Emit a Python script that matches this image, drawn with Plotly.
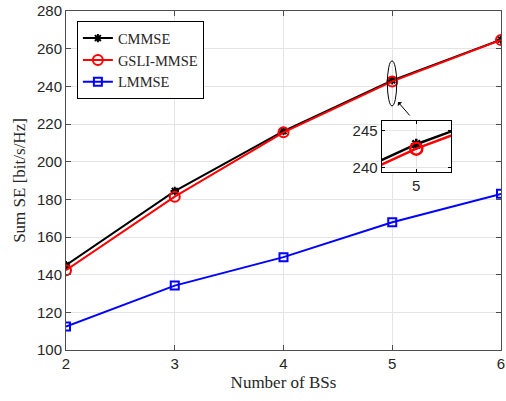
import plotly.graph_objects as go

# Number of base stations
bs_count = [2, 3, 4, 5, 6]

# Sum spectral efficiency [bit/s/Hz] per estimator
se_cmmse = [145.0, 184.4, 216.2, 243.2, 264.8]
se_gsli_mmse = [142.4, 181.4, 215.6, 242.6, 264.6]
se_lmmse = [112.5, 134.2, 149.3, 167.8, 182.9]

y_ticks = [100, 120, 140, 160, 180, 200, 220, 240, 260, 280]
x_ticks = [2, 3, 4, 5, 6]
inset_y_ticks = [240, 245]
inset_x_ticks = [5]

series = [
    ("CMMSE", se_cmmse, "black", "asterisk-open", 7),
    ("GSLI-MMSE", se_gsli_mmse, "#ff0000", "circle-open", 10),
    ("LMMSE", se_lmmse, "#0000ff", "square-open", 8),
]

serif = "Liberation Serif"
sans = "Liberation Sans"
axis_col = "#4d4d4d"
grid_col = "#e4e4e4"

fig = go.Figure()

for name, vals, col, sym, ms in series:
    fig.add_trace(go.Scatter(
        x=bs_count, y=vals, name=name, mode="lines+markers",
        line=dict(color=col, width=2),
        marker=dict(symbol=sym, size=ms, color=col, line=dict(color=col, width=2)),
        xaxis="x", yaxis="y",
    ))

# zoomed view around 5 BSs
for name, vals, col, sym, ms in series:
    fig.add_trace(go.Scatter(
        x=bs_count, y=vals, name=name, mode="lines+markers", showlegend=False,
        line=dict(color=col, width=2.5),
        marker=dict(symbol=sym, size=ms + 2, color=col, line=dict(color=col, width=2.5)),
        xaxis="x2", yaxis="y2", cliponaxis=True,
    ))

axis_common = dict(
    showline=True, linecolor=axis_col, linewidth=1, mirror="allticks",
    ticks="inside", ticklen=5, tickcolor=axis_col,
    showgrid=True, gridcolor=grid_col, gridwidth=1, zeroline=False,
    tickfont=dict(family=sans, size=15, color="#262626"),
)

fig.update_layout(
    width=506, height=401,
    margin=dict(l=66, r=5, t=11, b=51, autoexpand=False),
    paper_bgcolor="white", plot_bgcolor="white",
    xaxis=dict(
        range=[2, 6], tickvals=x_ticks, domain=[0, 1],
        title=dict(text="Number of BSs", font=dict(family=serif, size=17, color="#262626"), standoff=5),
        **axis_common,
    ),
    yaxis=dict(
        range=[100, 280], tickvals=y_ticks, domain=[0, 1],
        title=dict(text="Sum SE [bit/s/Hz]", font=dict(family=serif, size=17, color="#262626"), standoff=7),
        **axis_common,
    ),
    xaxis2=dict(
        range=[4.92, 5.08], tickvals=inset_x_ticks, domain=[0.7255, 0.885], anchor="y2",
        **{**axis_common, "linecolor": "black", "tickcolor": "black", "ticklen": 3},
    ),
    yaxis2=dict(
        range=[239.37, 246.4], tickvals=inset_y_ticks, domain=[0.524, 0.6764], anchor="x2",
        **{**axis_common, "linecolor": "black", "tickcolor": "black", "ticklen": 3},
    ),
    legend=dict(
        x=0.025, y=0.97, xanchor="left", yanchor="top",
        bgcolor="white", bordercolor="black", borderwidth=1,
        font=dict(family=serif, size=14.5, color="#262626"),
        tracegroupgap=0, itemwidth=30,
    ),
    showlegend=True,
)

# ellipse marking the zoomed region
fig.add_shape(
    type="circle", xref="x", yref="y",
    x0=4.955, x1=5.041, y0=229.6, y1=253.5,
    line=dict(color="black", width=1),
)

fig.add_annotation(
    x=5.053, y=231.7, xref="x", yref="y",
    ax=13, ay=15, text="", showarrow=True,
    arrowhead=1, arrowsize=1, arrowwidth=1, arrowcolor="black",
)

fig.write_html("out.html")
